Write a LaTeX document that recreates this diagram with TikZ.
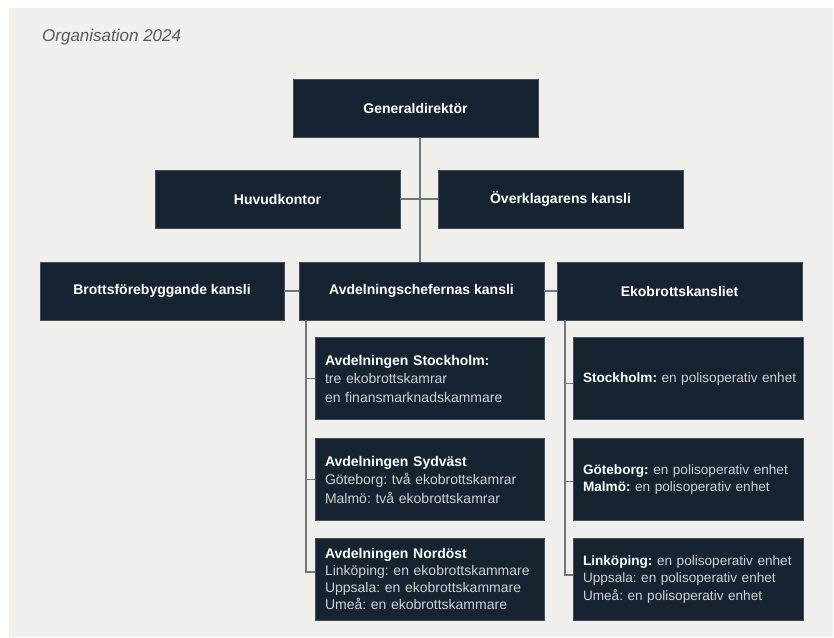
\documentclass[tikz,border=0pt]{standalone}
\usepackage{fontspec}
\setmainfont{Liberation Sans}
\frenchspacing
\hyphenpenalty=10000
\hbadness=10000
\hfuzz=50pt
\definecolor{bgc}{HTML}{F0EFEB}
\definecolor{boxc}{HTML}{152430}
\definecolor{linec}{HTML}{6E777C}
\definecolor{titlec}{HTML}{5A5A5A}
\definecolor{subtxt}{HTML}{CDD1D5}
\begin{document}
\begin{tikzpicture}[x=1pt,y=-1pt,
  bigbox/.style={fill=boxc, draw=boxc!80!white, line width=0.4pt, minimum width=245pt, minimum height=58pt, inner sep=0pt, text=white, font=\fontsize{14}{16}\selectfont\bfseries},
  subbox/.style={fill=boxc, draw=boxc!80!white, line width=0.4pt, minimum width=229pt, minimum height=82pt, inner xsep=10pt, inner ysep=0pt, text width=209pt, align=left, text=subtxt, font=\fontsize{14}{18.5}\selectfont},
  ekobox/.style={subbox, minimum width=230pt, inner xsep=10pt, text width=210pt},
  conn/.style={draw=linec, line width=1.6pt}]
\useasboundingbox (0,0) rectangle (834,637);
\fill[bgc] (9,8) rectangle (833,637);
\node[anchor=west, inner sep=0pt, text=titlec, font=\fontsize{17}{19}\selectfont\itshape] (title) at (42,37) {Organisation 2024};

\node[bigbox] (gd) at (415.5,108) {Generaldirektör};
\node[bigbox] (hk) at (277.5,199) {Huvudkontor};
\node[bigbox] (ok) at (560.5,199) {Överklagarens kansli};
\node[bigbox, minimum width=244pt] (bk) at (162,291) {Brottsförebyggande kansli};
\node[bigbox] (ak) at (421.5,291) {Avdelningschefernas kansli};
\node[bigbox] (ek) at (679.5,291) {Ekobrottskansliet};

\node[subbox] (s1) at (429.5,378.5) {\textcolor{white}{\textbf{Avdelningen Stockholm:}}\\tre ekobrottskamrar\\en finansmarknadskammare};
\node[subbox] (s2) at (429.5,479.5) {\textcolor{white}{\textbf{Avdelningen Sydväst}}\\Göteborg: två ekobrottskamrar\\Malmö: två ekobrottskamrar};
\node[subbox, font=\fontsize{14}{17}\selectfont] (s3) at (429.5,579) {\textcolor{white}{\textbf{Avdelningen Nordöst}}\\Linköping: en ekobrottskammare\\Uppsala: en ekobrottskammare\\Umeå: en ekobrottskammare};

\node[ekobox, font=\fontsize{13.6}{17}\selectfont] (e1) at (688,378.5) {\mbox{\textcolor{white}{\textbf{Stockholm:}} en polisoperativ enhet}};
\node[ekobox, font=\fontsize{13.6}{17}\selectfont] (e2) at (688,479.5) {\mbox{\textcolor{white}{\textbf{Göteborg:}} en polisoperativ enhet}\\\mbox{\textcolor{white}{\textbf{Malmö:}} en polisoperativ enhet}};
\node[ekobox, font=\fontsize{13.6}{17.5}\selectfont] (e3) at (688,579) {\mbox{\textcolor{white}{\textbf{Linköping:}} en polisoperativ enhet}\\Uppsala: en polisoperativ enhet\\Umeå: en polisoperativ enhet};

% connectors
\draw[conn] ([xshift=-1.5pt]ak.north) -- ([xshift=-1.5pt]ak.north |- gd.south);
\draw[conn] (hk.east) -- (ok.west);
\draw[conn] (bk.east) -- (ak.west);
\draw[conn] (ak.east) -- (ek.west);

\coordinate (lb) at ([xshift=7pt]ak.south west);
\draw[conn] (lb) |- ([yshift=7pt]s3.west);
\draw[conn] (s1.west) -- (s1.west -| lb);
\draw[conn] (s2.west) -- (s2.west -| lb);

\coordinate (rb) at ([xshift=8pt]ek.south west);
\draw[conn] (rb) |- ([yshift=4pt]e3.west);
\draw[conn] ([yshift=-5pt]e1.west) -- ([yshift=-5pt]e1.west -| rb);
\draw[conn] ([yshift=-2pt]e2.west) -- ([yshift=-2pt]e2.west -| rb);
\end{tikzpicture}
\end{document}
